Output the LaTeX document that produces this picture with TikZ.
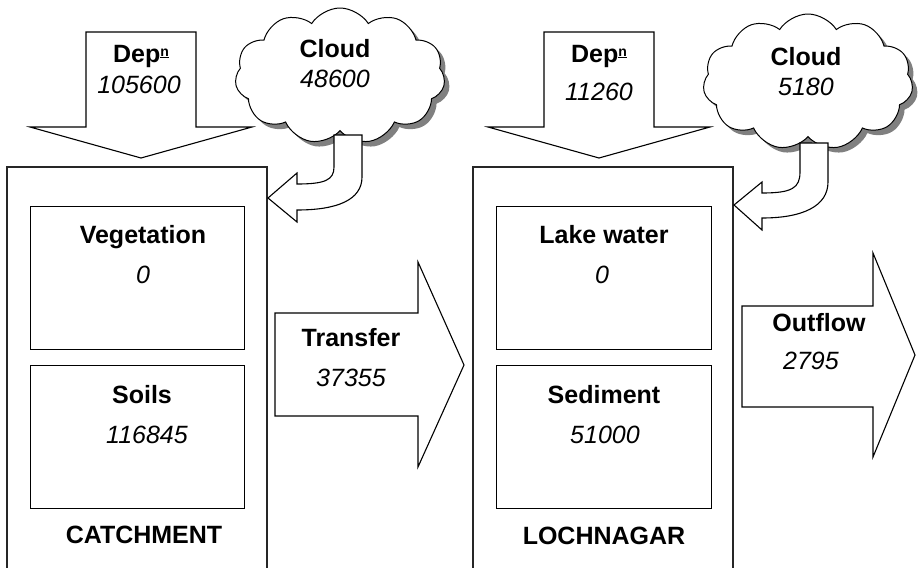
\documentclass[tikz,border=0pt]{standalone}
\usepackage{fontspec}
\setmainfont{Liberation Sans}
\usetikzlibrary{shapes.symbols,shadows}
\begin{document}
\begin{tikzpicture}[x=1pt,y=-1pt,
  lbl/.style={font=\fontsize{25}{29}\selectfont\bfseries, anchor=base, inner sep=0pt},
  num/.style={font=\fontsize{25}{29}\selectfont\itshape, anchor=base, inner sep=0pt},
  outline/.style={draw=black, line width=1.1pt, fill=white, line join=miter},
  bigbox/.style={draw=black!85, line width=1.4pt},
  store/.style={draw=black, line width=1.1pt, fill=white, anchor=north west, inner sep=0pt, minimum width=214pt, minimum height=143pt},
  cloudshape/.style={cloud, cloud puffs=11, cloud puff arc=115, aspect=1.55, draw=black, line width=1pt, fill=white, inner sep=0pt,
    drop shadow={shadow xshift=5pt, shadow yshift=-5pt, fill=black!50, opacity=1}}
]
\clip (0,0) rectangle (922,568);
\fill[white] (0,0) rectangle (922,568);

% big compartments (open at the bottom)
\draw[bigbox] (7,580) -- (7,167) -- (267,167) -- (267,580);
\draw[bigbox] (473,580) -- (473,167) -- (733,167) -- (733,580);

% deposition arrows
\draw[outline] (86,32) -- (196,32) -- (196,127) -- (252,127) -- (141,158) -- (30,127) -- (86,127) -- cycle;
\draw[outline] (544,32) -- (654,32) -- (654,127) -- (710,127) -- (599,158) -- (488,127) -- (544,127) -- cycle;

% clouds
\node[cloudshape, minimum width=210pt, minimum height=136pt] (cloudL) at (340,76) {};
\node[cloudshape, minimum width=210pt, minimum height=136pt] (cloudR) at (808,82) {};

% curved arrows from the clouds
\draw[outline] (334,135) -- (334,167) .. controls (334,180) and (325,184) .. (297,184) -- (297,173) -- (268,198) -- (297,222) -- (297,210) .. controls (337,210) and (362,200) .. (362,177) -- (362,135) -- cycle;
\draw[outline] (800,143) -- (800,172) .. controls (800,188) and (792,193) .. (762,193) -- (762,182) -- (734,205) -- (762,230) -- (762,218) .. controls (803,218) and (828,206) .. (828,182) -- (828,143) -- cycle;

% transfer and outflow arrows
\draw[outline] (275,313) -- (418,313) -- (418,262) -- (464,365) -- (418,467) -- (418,416) -- (275,416) -- cycle;
\draw[outline] (742,306) -- (873,306) -- (873,253) -- (915,355) -- (873,457) -- (873,407) -- (742,407) -- cycle;

% stores
\node[store] (veg) at (30,206) {};
\node[store] (soil) at (30,365) {};
\node[store, minimum width=215pt] (lake) at (496,206) {};
\node[store, minimum width=215pt] (sed) at (496,365) {};

% texts
\node[lbl] (depLt) at (141,62) {Dep\raisebox{6pt}{\fontsize{14}{14}\selectfont\underline{n}}};
\node[num] (depLv) at (139,93) {105600};
\node[lbl] (depRt) at (599,62) {Dep\raisebox{6pt}{\fontsize{14}{14}\selectfont\underline{n}}};
\node[num] (depRv) at (599,100) {11260};
\node[lbl] (cldLt) at (335,57) {Cloud};
\node[num] (cldLv) at (335,87) {48600};
\node[lbl] (cldRt) at (806,65) {Cloud};
\node[num] (cldRv) at (806,95) {5180};
\node[lbl] (vegt) at (143,243) {Vegetation};
\node[num] (vegv) at (143,283) {0};
\node[lbl] (soilt) at (142,403) {Soils};
\node[num] (soilv) at (147,443) {116845};
\node[lbl] (catch) at (144,543) {CATCHMENT};
\node[lbl] (laket) at (604,243) {Lake water};
\node[num] (lakev) at (602,283) {0};
\node[lbl] (sedt) at (604,403) {Sediment};
\node[num] (sedv) at (605,443) {51000};
\node[lbl] (loch) at (604,544) {LOCHNAGAR};
\node[lbl] (trt) at (351,346) {Transfer};
\node[num] (trv) at (351,386) {37355};
\node[lbl] (outt) at (819,331) {Outflow};
\node[num] (outv) at (811,369) {2795};
\end{tikzpicture}
\end{document}
